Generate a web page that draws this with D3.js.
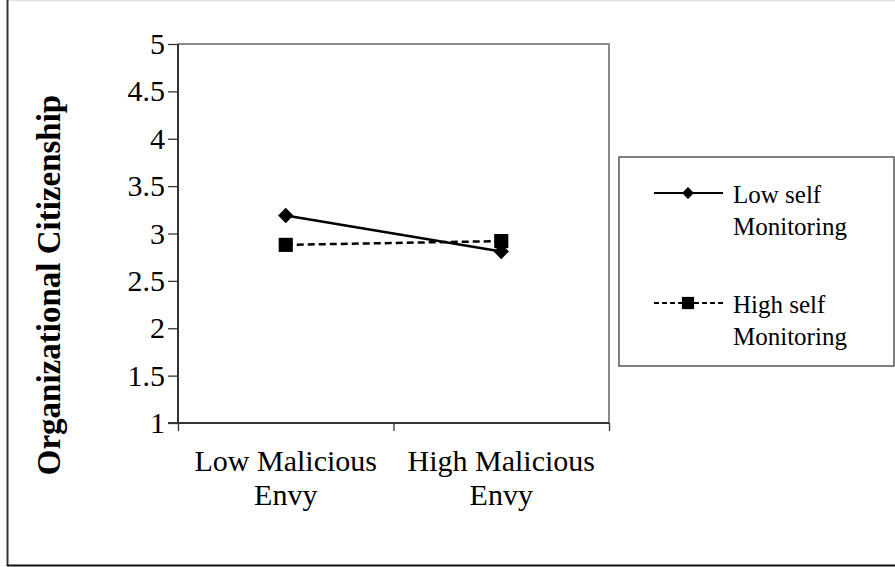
<!DOCTYPE html>
<html lang="en">
  <head>
    <meta charset="UTF-8" />
    <title>Organizational Citizenship</title>
    <script src="https://d3js.org/d3.v7.min.js"></script>
    <style>
      body { margin: 0; background: #fff; }
      svg { display: block; }
      svg text { font-family: "Liberation Serif", "Times New Roman", serif; }
    </style>
  </head>
  <body>
    <svg></svg>
    <script>
      // chart data
      const categories = ["Low Malicious|Envy", "High Malicious|Envy"];
      const seriesNames = ["Low self|Monitoring", "High self|Monitoring"];
      const lowSelf = [3.19, 2.81];
      const highSelf = [2.88, 2.92];
      const yTicks = [1, 1.5, 2, 2.5, 3, 3.5, 4, 4.5, 5];

      let width = 895,
        height = 567;

      let svg = d3.select("svg").attr("width", width).attr("height", height);

      // outer frame
      svg.append("line").attr("x1", 7).attr("x2", width).attr("y1", 0.5).attr("y2", 0.5)
        .attr("stroke", "#e4e4e4").attr("stroke-width", 1.5);
      svg.append("line").attr("x1", 7.5).attr("x2", 7.5).attr("y1", 0).attr("y2", 566)
        .attr("stroke", "#333").attr("stroke-width", 2);
      svg.append("line").attr("x1", 7).attr("x2", width).attr("y1", 565.5).attr("y2", 565.5)
        .attr("stroke", "#111").attr("stroke-width", 2);

      let plot = { left: 178, right: 609, top: 44, bottom: 423 };

      let x = d3.scaleBand().domain(categories).range([plot.left, plot.right]);
      let xEdge = d3.scaleLinear().domain([0, 2]).range([plot.left, plot.right]);
      let y = d3.scaleLinear().domain([1, 5]).range([plot.bottom, plot.top]);

      // top & right border of plot area
      svg.append("path")
        .attr("d", "M" + plot.left + "," + plot.top + "H" + plot.right + "V" + plot.bottom)
        .attr("fill", "none").attr("stroke", "#8a8a8a").attr("stroke-width", 2);

      // y axis
      let yAxis = svg.append("g")
        .attr("transform", "translate(" + plot.left + ",0)")
        .call(d3.axisLeft(y).tickValues(yTicks).tickSize(10).tickPadding(3).tickFormat((d) => String(d)))
        .attr("font-family", null)
        .attr("font-size", 30);
      yAxis.select(".domain").attr("stroke", "#333").attr("stroke-width", 2).attr("d", "M0," + plot.top + "V" + plot.bottom);
      yAxis.selectAll(".tick line").attr("stroke", "#333").attr("stroke-width", 1.3);
      yAxis.selectAll(".tick text").attr("fill", "#000");

      // x axis (ticks at category edges)
      let xAxis = svg.append("g")
        .attr("transform", "translate(0," + plot.bottom + ")")
        .call(d3.axisBottom(xEdge).tickValues([0, 1, 2]).tickSize(8).tickFormat(""));
      xAxis.select(".domain").attr("stroke", "#333").attr("stroke-width", 2).attr("d", "M" + (plot.left - 10) + ",0H" + plot.right);
      xAxis.selectAll(".tick line").attr("stroke", "#333").attr("stroke-width", 1.3);

      // category labels
      svg.append("g").selectAll("text")
        .data(categories)
        .enter()
        .append("text")
        .attr("text-anchor", "middle")
        .attr("font-size", 30)
        .attr("x", (d) => x(d) + x.bandwidth() / 2)
        .attr("y", 471)
        .each(function (d) {
          d.split("|").forEach((part, i) => {
            d3.select(this).append("tspan")
              .attr("x", x(d) + x.bandwidth() / 2)
              .attr("dy", i === 0 ? 0 : 34)
              .text(part);
          });
        });

      // y title
      svg.append("text")
        .attr("transform", "translate(60,285) rotate(-90)")
        .attr("text-anchor", "middle")
        .attr("font-size", 33)
        .attr("font-weight", "bold")
        .text("Organizational Citizenship");

      let line = d3.line()
        .x((d, i) => x(categories[i]) + x.bandwidth() / 2)
        .y((d) => y(d));

      let diamond = d3.symbol().type(d3.symbolDiamond2).size(150);
      let square = d3.symbol().type(d3.symbolSquare).size(200);

      // low self monitoring
      svg.append("path").datum(lowSelf).attr("d", line)
        .attr("fill", "none").attr("stroke", "#000").attr("stroke-width", 2.5);
      svg.append("g").selectAll("path")
        .data(lowSelf)
        .enter()
        .append("path")
        .attr("d", diamond)
        .attr("transform", (d, i) => "translate(" + (x(categories[i]) + x.bandwidth() / 2) + "," + y(d) + ")")
        .attr("fill", "#000");

      // high self monitoring
      svg.append("path").datum(highSelf).attr("d", line)
        .attr("fill", "none").attr("stroke", "#000").attr("stroke-width", 2.5)
        .attr("stroke-dasharray", "7,4");
      svg.append("g").selectAll("path")
        .data(highSelf)
        .enter()
        .append("path")
        .attr("d", square)
        .attr("transform", (d, i) => "translate(" + (x(categories[i]) + x.bandwidth() / 2) + "," + y(d) + ")")
        .attr("fill", "#000");

      // legend
      let legend = svg.append("g");
      legend.append("rect")
        .attr("x", 619).attr("y", 157).attr("width", 275).attr("height", 209)
        .attr("fill", "#fff").attr("stroke", "#555").attr("stroke-width", 1.5);

      let entries = [
        { name: seriesNames[0], dash: null, sym: d3.symbol().type(d3.symbolDiamond2).size(90), y: 193 },
        { name: seriesNames[1], dash: "5,3", sym: d3.symbol().type(d3.symbolSquare).size(150), y: 303 },
      ];
      entries.forEach((e) => {
        legend.append("line")
          .attr("x1", 654).attr("x2", 723).attr("y1", e.y).attr("y2", e.y)
          .attr("stroke", "#000").attr("stroke-width", 2)
          .attr("stroke-dasharray", e.dash);
        legend.append("path").attr("d", e.sym)
          .attr("transform", "translate(688," + e.y + ")").attr("fill", "#000");
        let t = legend.append("text").attr("font-size", 25).attr("x", 733).attr("y", e.y + 10);
        e.name.split("|").forEach((part, i) => {
          t.append("tspan").attr("x", 733).attr("dy", i === 0 ? 0 : 32).text(part);
        });
      });
    </script>
  </body>
</html>
